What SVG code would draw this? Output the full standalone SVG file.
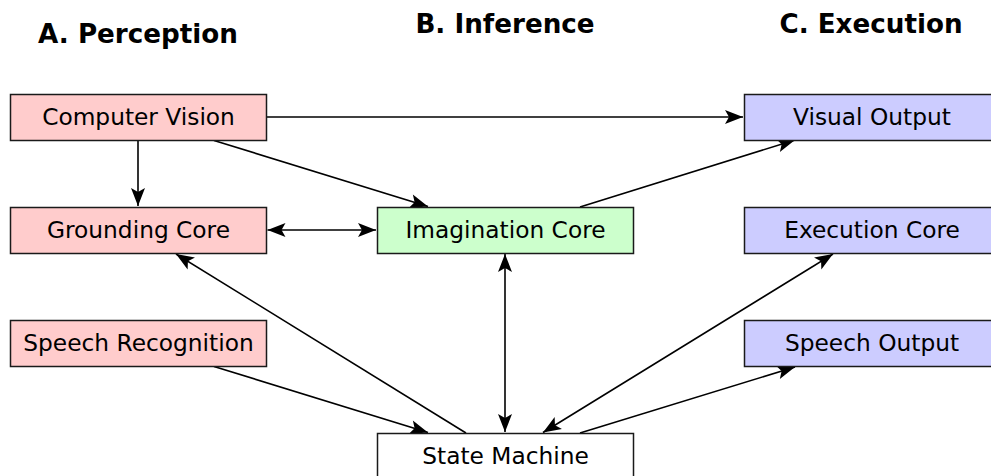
<svg xmlns="http://www.w3.org/2000/svg" width="991" height="476" viewBox="0 0 991 476">
  <defs>
    <marker id="arrow" viewBox="-19 -8 20 16" refX="0" refY="0" markerWidth="20" markerHeight="16" markerUnits="userSpaceOnUse" orient="auto-start-reverse">
      <path d="M0,0 L-18,-7 L-14,0 L-18,7 Z" fill="#000"/>
    </marker>
    <style>
      .title { font-family: "DejaVu Sans", sans-serif; font-weight: bold; font-size: 26.2px; fill: #000; text-anchor: middle; }
      .label { font-family: "DejaVu Sans", sans-serif; font-size: 23.3px; fill: #000; text-anchor: middle; }
      .box { stroke: #1a1a1a; stroke-width: 1.5; }
      .perception { fill: #ffcccc; }
      .inference { fill: #ccffcc; }
      .execution { fill: #ccccff; }
      .state { fill: #ffffff; }
      .edge { stroke: #000; stroke-width: 1.6; fill: none; }
      .fwd { marker-end: url(#arrow); }
      .both { marker-start: url(#arrow); marker-end: url(#arrow); }
    </style>
  </defs>

  <rect width="991" height="476" fill="#ffffff"/>

  <!-- column headings -->
  <g id="headings">
    <text class="title" x="138" y="43">A. Perception</text>
    <text class="title" x="505" y="33">B. Inference</text>
    <text class="title" x="871" y="33">C. Execution</text>
  </g>

  <!-- connectors -->
  <g id="connectors">
    <line class="edge fwd" x1="266.5" y1="117" x2="743" y2="117"/>
    <line class="edge fwd" x1="138" y1="140.5" x2="138" y2="206"/>
    <line class="edge fwd" x1="214" y1="140.5" x2="428" y2="206.5"/>
    <line class="edge both" x1="267.5" y1="230" x2="376" y2="230"/>
    <line class="edge fwd" x1="580" y1="207" x2="795" y2="140"/>
    <line class="edge fwd" x1="214" y1="366.5" x2="428" y2="432.5"/>
    <line class="edge fwd" x1="466" y1="433" x2="176" y2="254"/>
    <line class="edge both" x1="505" y1="254" x2="505" y2="432"/>
    <line class="edge both" x1="543" y1="432.5" x2="833" y2="254"/>
    <line class="edge fwd" x1="580" y1="433" x2="795" y2="367"/>
  </g>

  <!-- perception nodes -->
  <g id="computer-vision">
    <rect class="box perception" x="10.5" y="94.5" width="256" height="46"/>
    <text class="label" x="138.5" y="125">Computer Vision</text>
  </g>
  <g id="grounding-core">
    <rect class="box perception" x="10.5" y="207.5" width="256" height="46"/>
    <text class="label" x="138.5" y="238">Grounding Core</text>
  </g>
  <g id="speech-recognition">
    <rect class="box perception" x="10.5" y="320.5" width="256" height="46"/>
    <text class="label" x="138.5" y="351">Speech Recognition</text>
  </g>

  <!-- inference nodes -->
  <g id="imagination-core">
    <rect class="box inference" x="377.5" y="207.5" width="256" height="46"/>
    <text class="label" x="505.5" y="238">Imagination Core</text>
  </g>
  <g id="state-machine">
    <rect class="box state" x="377.5" y="433.5" width="256" height="46"/>
    <text class="label" x="505.5" y="464">State Machine</text>
  </g>

  <!-- execution nodes -->
  <g id="visual-output">
    <rect class="box execution" x="744.5" y="94.5" width="256" height="46"/>
    <text class="label" x="872" y="125">Visual Output</text>
  </g>
  <g id="execution-core">
    <rect class="box execution" x="744.5" y="207.5" width="256" height="46"/>
    <text class="label" x="872" y="238">Execution Core</text>
  </g>
  <g id="speech-output">
    <rect class="box execution" x="744.5" y="320.5" width="256" height="46"/>
    <text class="label" x="872" y="351">Speech Output</text>
  </g>
</svg>
